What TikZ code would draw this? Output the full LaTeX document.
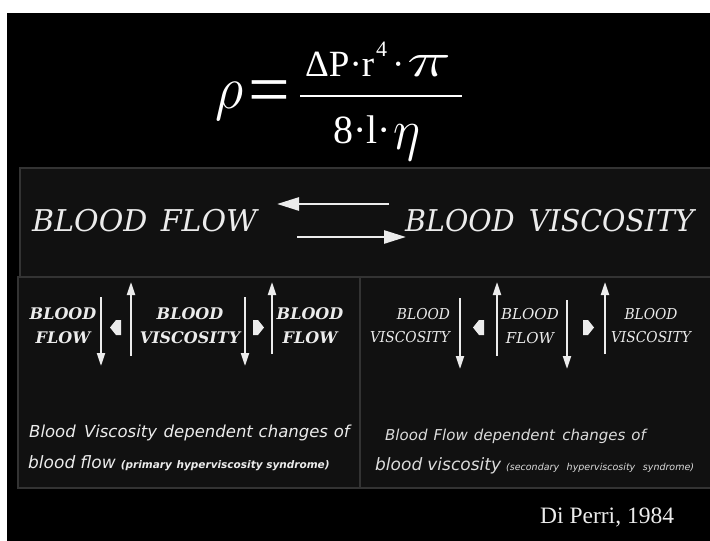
\documentclass[tikz,border=0pt]{standalone}
\usepackage{fix-cm}
\usepackage{fontspec}
\usepackage{graphicx}
\usetikzlibrary{arrows.meta}
\newfontfamily\slab{DejaVu Serif}
\newfontfamily\sansf{DejaVu Sans}
\newfontfamily\tms{Liberation Serif}
\definecolor{txt}{HTML}{ECECEC}
\definecolor{txtb}{HTML}{DCDCDC}
\definecolor{panelc}{HTML}{111111}
\definecolor{edgec}{HTML}{333333}
\tikzset{
  panel/.style={fill=panelc, draw=edgec, line width=1.5pt},
  bigarrow/.style={draw=txt, line width=2.6pt, -{Triangle[length=22pt,width=13pt]}},
  varrow/.style={draw=txt, line width=2pt, -{Triangle[length=13pt,width=8pt]}},
  fat/.style={fill=txt},
  head/.style={text=txt, font=\slab\itshape\fontsize{30}{30}\selectfont, inner sep=0pt, anchor=base west},
  lblL/.style={text=txt, font=\slab\bfseries\itshape\fontsize{16}{24}\selectfont, inner sep=0pt, align=center},
  lblR/.style={text=txt, font=\slab\itshape\fontsize{15}{24}\selectfont, inner sep=0pt},
  note/.style={text=txtb, font=\sansf\itshape\fontsize{16}{16}\selectfont, inner sep=0pt, anchor=base west},
  formula/.style={text=white, font=\tms\fontsize{37}{37}\selectfont, inner sep=0pt},
  cite/.style={text=txt, font=\tms\fontsize{23.5}{23.5}\selectfont, inner sep=0pt, anchor=base west}
}
\begin{document}
\begin{tikzpicture}[x=1pt,y=-1pt]
\useasboundingbox (0,0) rectangle (710,541);
\fill[white] (0,0) rectangle (710,541);
\fill[black] (7,13) rectangle (710,541);
% panels
\draw[panel] (20,168) rectangle (712,277);
\draw[panel] (18,277) rectangle (360,488);
\draw[panel] (360,277) rectangle (712,488);
% formula
\node[formula, anchor=base west] (rho) at (215,108) {\resizebox*{28pt}{38pt}{$\rho$}};
\node[formula, anchor=base, font=\tms\fontsize{74}{74}\selectfont] (eq) at (269,114) {=};
\node[formula, anchor=base west] (num) at (305,76) {ΔP·r\hspace{2pt}\raisebox{20pt}{\fontsize{22}{22}\selectfont 4}\hspace{5pt}·\hspace{3pt}\resizebox{44pt}{21pt}{$\pi$}};
\node[formula, anchor=base west, font=\tms\fontsize{40}{40}\selectfont] (den) at (333,143) {8·l·\hspace{3pt}\raisebox{-6pt}{\resizebox*{27pt}{36pt}{$\eta$}}};
\draw[white, line width=1.3pt] (300,96) -- (462,96);
% top panel
\node[head] (bf) at (32,231) {BLOOD\hspace{0.45em}FLOW};
\node[head] (bv) at (405,231) {\scalebox{0.95}[1]{BLOOD\hspace{0.5em}VISCOSITY}};
\coordinate (a1s) at (389,204);
\coordinate (a1e) at (277,204);
\coordinate (a2s) at (297,237);
\coordinate (a2e) at (406,237);
\draw[bigarrow] (a1s) -- (a1e);
\draw[bigarrow] (a2s) -- (a2e);
% bottom left
\node[lblL] (l1) at (63,326) {BLOOD\\FLOW};
\node[lblL] (l2) at (190,326) {BLOOD\\VISCOSITY};
\node[lblL] (l3) at (310,326) {BLOOD\\FLOW};
\draw[varrow] (101,297) -- (101,366);
\draw[varrow] (131,356) -- (131,282);
\draw[varrow] (245,297) -- (245,366);
\draw[varrow] (272,354) -- (272,282);
\fill[fat] (121,320) -- (116,320) -- (110,327.5) -- (116,335) -- (121,335) -- cycle;
\fill[fat] (253,320) -- (258,320) -- (264,327.5) -- (258,335) -- (253,335) -- cycle;
% bottom right
\node[lblR, align=right, anchor=center] (r1) at (410,326) {\scalebox{0.92}[1]{\begin{tabular}{@{}r@{}}BLOOD\\[-0.5pt]VISCOSITY\end{tabular}}};
\node[lblR, align=center] (r2) at (530,326) {BLOOD\\FLOW};
\node[lblR, anchor=center] (r3) at (651,326) {\scalebox{0.92}[1]{\begin{tabular}{@{}c@{}}BLOOD\\[-0.5pt]VISCOSITY\end{tabular}}};
\draw[varrow] (460,298) -- (460,369);
\draw[varrow] (497,356) -- (497,282);
\draw[varrow] (567,300) -- (567,369);
\draw[varrow] (605,354) -- (605,282);
\fill[fat] (484,320) -- (479,320) -- (473,327.5) -- (479,335) -- (484,335) -- cycle;
\fill[fat] (583,320) -- (588,320) -- (594,327.5) -- (588,335) -- (583,335) -- cycle;
% notes
\node[note, font=\sansf\itshape\fontsize{16.5}{16.5}\selectfont, text=txt] (n1) at (29,437) {Blood\hspace{0.5em}Viscosity\hspace{0.4em}dependent\hspace{0.35em}changes\hspace{0.35em}of};
\node[note, font=\sansf\itshape\fontsize{17}{17}\selectfont, text=txt] (n2) at (28,468) {blood\hspace{0.3em}flow\hspace{0.3em}{\bfseries\fontsize{10.5}{10.5}\selectfont (primary\hspace{0.45em}hyperviscosity\hspace{0.35em}syndrome)}};
\node[note, font=\sansf\itshape\fontsize{15}{15}\selectfont] (n3) at (385,440) {Blood\hspace{0.4em}Flow\hspace{0.4em}dependent\hspace{0.5em}changes\hspace{0.4em}of};
\node[note, font=\sansf\itshape\fontsize{17}{17}\selectfont] (n4) at (375,470) {blood\hspace{0.3em}viscosity\hspace{0.3em}{\fontsize{9.5}{9.5}\selectfont (secondary\hspace{0.8em}hyperviscosity\hspace{0.8em}syndrome)}};
\node[cite] (dp) at (540,523) {Di Perri, 1984};
\end{tikzpicture}
\end{document}
